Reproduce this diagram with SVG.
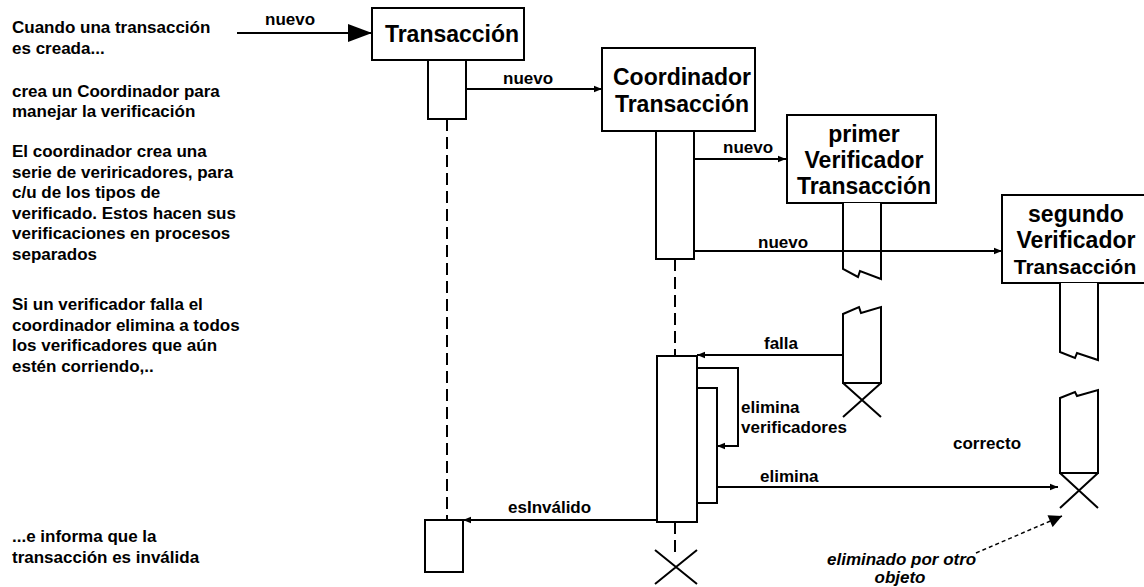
<svg xmlns="http://www.w3.org/2000/svg" width="1144" height="587" viewBox="0 0 1144 587">
<style>
.t{font-family:"Liberation Sans",Arial,Helvetica,sans-serif;font-weight:bold;font-size:17px;fill:#000}
.big{font-size:23px;text-anchor:middle}
.it{font-style:italic}
.ln{stroke:#000;stroke-width:2;fill:none}
.box{fill:#fff;stroke:#000;stroke-width:2}
.life{stroke:#000;stroke-width:2;stroke-dasharray:12 6;fill:none}
</style>
<defs>
<marker id="sm" viewBox="0 0 10 10" refX="10" refY="5" markerWidth="10" markerHeight="8" markerUnits="userSpaceOnUse" orient="auto">
<path d="M0,1 L10,5 L0,9 z" fill="#000"/>
</marker>
<marker id="bg" viewBox="0 0 24 18" refX="24" refY="9" markerWidth="24" markerHeight="18" markerUnits="userSpaceOnUse" orient="auto">
<path d="M0,0 L24,9 L0,18 z" fill="#000"/>
</marker>
<marker id="ds" viewBox="0 0 14 14" refX="14" refY="7" markerWidth="14" markerHeight="13" markerUnits="userSpaceOnUse" orient="auto">
<path d="M0,0 L14,7 L0,14 z" fill="#000"/>
</marker>
</defs>
<rect width="1144" height="587" fill="#fff"/>

<g id="notes" class="t">
<text x="12" y="33">Cuando una transacción</text>
<text x="12" y="54">es creada...</text>
<text x="12" y="97">crea un Coordinador para</text>
<text x="12" y="117">manejar la verificación</text>
<text x="12" y="157">El coordinador crea una</text>
<text x="12" y="178">serie de veriricadores, para</text>
<text x="12" y="198">c/u de los tipos de</text>
<text x="12" y="219">verificado. Estos hacen sus</text>
<text x="12" y="239">verificaciones en procesos</text>
<text x="12" y="260">separados</text>
<text x="12" y="310">Si un verificador falla el</text>
<text x="12" y="331">coordinador elimina a todos</text>
<text x="12" y="351">los verificadores que aún</text>
<text x="12" y="372">estén corriendo,..</text>
<text x="12" y="542">...e informa que la</text>
<text x="12" y="563">transacción es inválida</text>
</g>

<g id="transaccion">
<rect class="box" x="372" y="8" width="152" height="52"/>
<text class="t big" x="452" y="42">Transacción</text>
<line class="life" x1="447" y1="119" x2="447" y2="520"/>
<rect class="box" x="428" y="60" width="38" height="59"/>
<rect class="box" x="425" y="520" width="38" height="52"/>
</g>

<g id="coordinador">
<rect class="box" x="602" y="48" width="153" height="83"/>
<text class="t big" x="682" y="85">Coordinador</text>
<text class="t big" x="682" y="112">Transacción</text>
<line class="life" x1="675" y1="259" x2="675" y2="356"/>
<line class="life" x1="675" y1="522" x2="675" y2="552"/>
<rect class="box" x="656" y="131" width="38" height="128"/>
<rect class="box" x="657" y="356" width="40" height="166"/>
<rect class="box" x="697" y="388" width="20" height="115"/>
<path class="ln" d="M655,550 L697,584 M697,550 L655,584"/>
</g>

<g id="primer">
<rect class="box" x="787" y="115" width="149" height="88"/>
<text class="t big" x="864" y="142">primer</text>
<text class="t big" x="864" y="168">Verificador</text>
<text class="t big" x="864" y="194">Transacción</text>
<path class="box" d="M843,203 L843,269 L858,277 L860,271 L881,279 L881,203"/>
<path class="box" d="M843,383 L843,314 L859,307 L861,313 L881,307 L881,383 Z"/>
<path class="ln" d="M843,383 L881,417 M881,383 L843,417"/>
</g>

<g id="segundo">
<rect class="box" x="1002" y="195" width="160" height="88"/>
<text class="t big" x="1076" y="222">segundo</text>
<text class="t big" x="1076" y="248">Verificador</text>
<text class="t big" x="1075" y="274" style="font-size:21px">Transacción</text>
<path class="box" d="M1060,283 L1060,352 L1075,358 L1077,353 L1098,360 L1098,283"/>
<path class="box" d="M1060,473 L1060,398 L1075,392 L1077,396 L1098,390 L1098,473 Z"/>
<path class="ln" d="M1060,473 L1098,508 M1098,473 L1060,508"/>
</g>

<g id="connectors">
<line class="ln" x1="237" y1="33" x2="372" y2="33" marker-end="url(#bg)"/>
<text class="t" x="265" y="25">nuevo</text>
<line class="ln" x1="466" y1="89" x2="602" y2="89" marker-end="url(#sm)"/>
<text class="t" x="503" y="84">nuevo</text>
<line class="ln" x1="694" y1="159" x2="786" y2="159" marker-end="url(#sm)"/>
<text class="t" x="723" y="153">nuevo</text>
<line class="ln" x1="694" y1="251" x2="1002" y2="251" marker-end="url(#sm)"/>
<text class="t" x="758" y="248">nuevo</text>
<line class="ln" x1="843" y1="355" x2="697" y2="355" marker-end="url(#sm)"/>
<text class="t" x="764" y="349">falla</text>
<path class="ln" d="M697,368 H738 V446 H717" marker-end="url(#sm)"/>
<text class="t" x="741" y="413">elimina</text>
<text class="t" x="741" y="433">verificadores</text>
<line class="ln" x1="717" y1="487" x2="1058" y2="487" marker-end="url(#sm)"/>
<text class="t" x="760" y="482">elimina</text>
<line class="ln" x1="657" y1="520" x2="463" y2="520" marker-end="url(#sm)"/>
<text class="t" x="508" y="513">esInválido</text>
<text class="t" x="953" y="449">correcto</text>
<line x1="976" y1="553" x2="1062" y2="516" stroke="#000" stroke-width="1.5" stroke-dasharray="4 3" marker-end="url(#ds)"/>
<text class="t it" x="827" y="565">eliminado por otro</text>
<text class="t it" x="900" y="583" text-anchor="middle">objeto</text>
</g>
</svg>
